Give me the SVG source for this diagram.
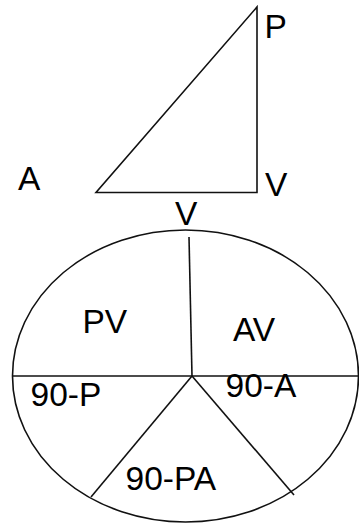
<svg xmlns="http://www.w3.org/2000/svg" width="359" height="525" viewBox="0 0 359 525">
<style>
.ln{fill:none;stroke:#111;stroke-width:1.6;stroke-linejoin:miter}
.lb{font-family:"Liberation Sans",Arial,sans-serif;font-size:33.5px;fill:#000}
</style>
<rect width="359" height="525" fill="#fff"/>
<g id="triangle">
<path class="ln" d="M96,192.5 L257,192.5 L257,7 Z"/>
<text class="lb" x="264.5" y="38">P</text>
<text class="lb" x="18" y="190">A</text>
<text class="lb" x="265" y="196">V</text>
<text class="lb" x="175" y="225">V</text>
</g>
<g id="ellipse">
<ellipse class="ln" cx="185.5" cy="376" rx="173" ry="146"/>
</g>
<g id="connectors">
<path class="ln" d="M189,237 L192,376"/>
<path class="ln" d="M13,376 L358,376"/>
<path class="ln" d="M192,376 L91,497"/>
<path class="ln" d="M192,376 L294,495"/>
</g>
<g id="labels">
<text class="lb" x="82.5" y="333">PV</text>
<text class="lb" x="233" y="341">AV</text>
<text class="lb" x="30.5" y="406">90-P</text>
<text class="lb" x="225.5" y="397">90-A</text>
<text class="lb" x="125.5" y="490">90-PA</text>
</g>
</svg>
